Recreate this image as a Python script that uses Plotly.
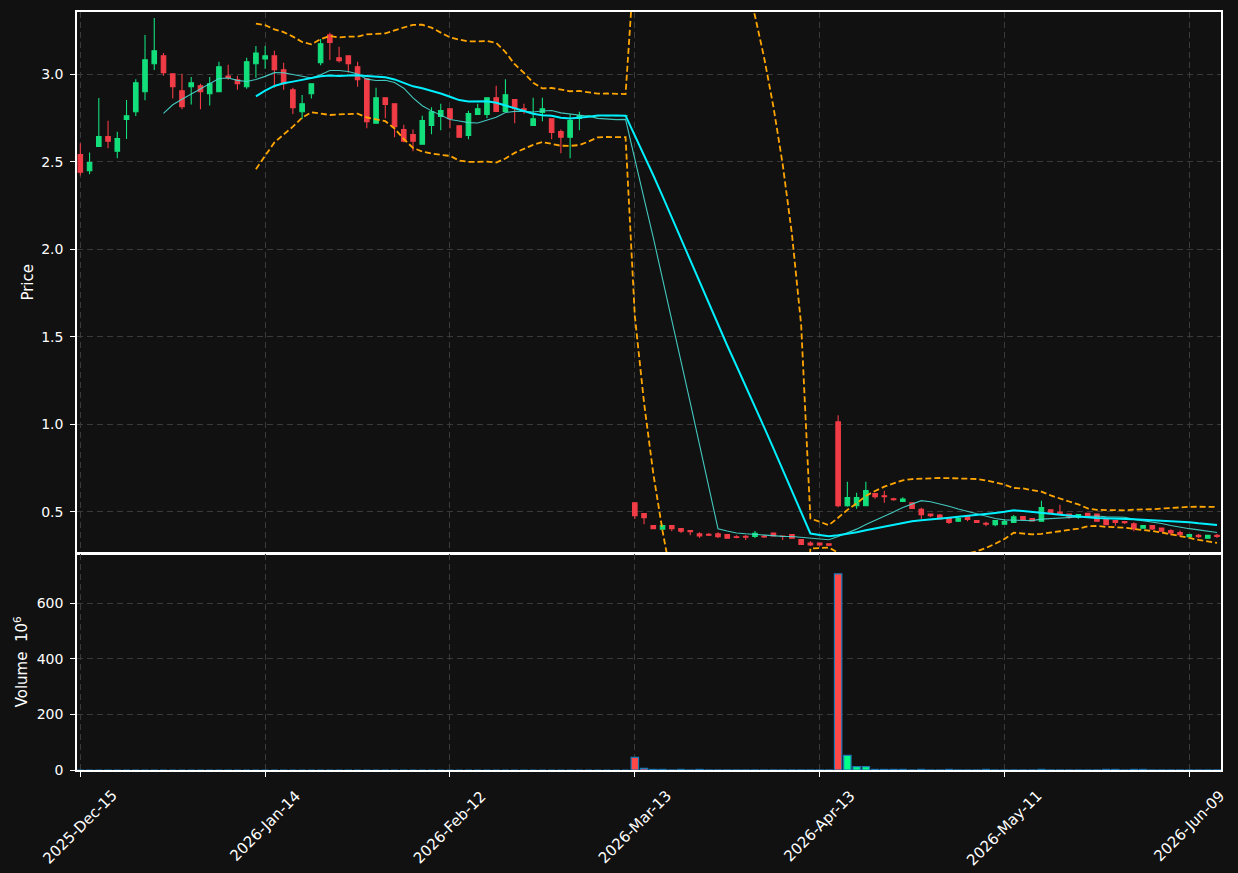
import pandas as pd
import plotly.graph_objects as go

# ---------------- data ----------------
tick_idx = [0, 20, 40, 60, 80, 100, 120]
tick_labels = ["2025-Dec-15", "2026-Jan-14", "2026-Feb-12", "2026-Mar-13",
               "2026-Apr-13", "2026-May-11", "2026-Jun-09"]

opens = [2.541, 2.449, 2.587, 2.644, 2.560, 2.742, 2.786, 2.900, 3.060, 3.105,
         3.003, 2.906, 2.929, 2.934, 2.889, 2.900, 2.990, 2.969, 2.929, 3.060,
         3.088, 3.105, 3.026, 2.912, 2.786, 2.889, 3.066, 3.225, 3.094, 3.105,
         3.043, 2.974, 2.720, 2.866, 2.832, 2.684, 2.655, 2.600, 2.708, 2.759,
         2.803, 2.706, 2.651, 2.771, 2.771, 2.866, 2.788, 2.855, 2.803, 2.708,
         2.782, 2.746, 2.672, 2.640, 2.748, 2.763, 2.763, 2.763, 2.763, 2.763,
         0.551, 0.489, 0.420, 0.400, 0.420, 0.403, 0.392, 0.373, 0.371, 0.373,
         0.369, 0.356, 0.359, 0.359, 0.361, 0.378, 0.361, 0.369, 0.340, 0.320,
         0.320, 0.316, 1.013, 0.534, 0.534, 0.534, 0.603, 0.591, 0.574, 0.559,
         0.551, 0.513, 0.487, 0.481, 0.460, 0.445, 0.472, 0.449, 0.434, 0.426,
         0.428, 0.439, 0.472, 0.460, 0.445, 0.511, 0.496, 0.487, 0.468, 0.490,
         0.487, 0.458, 0.449, 0.443, 0.430, 0.405, 0.420, 0.407, 0.392, 0.380,
         0.357, 0.365, 0.348, 0.365]
highs = [2.606, 2.553, 2.864, 2.735, 2.672, 2.853, 2.972, 3.225, 3.322, 3.121,
         3.003, 3.003, 2.984, 2.946, 2.984, 3.071, 3.054, 2.991, 3.094, 3.162,
         3.162, 3.134, 3.066, 2.923, 2.881, 2.946, 3.202, 3.237, 3.157, 3.105,
         3.071, 2.974, 2.923, 2.866, 2.832, 2.712, 2.684, 2.763, 2.811, 2.832,
         2.803, 2.706, 2.792, 2.832, 2.866, 2.934, 2.972, 2.855, 2.832, 2.866,
         2.866, 2.746, 2.685, 2.771, 2.786, 2.763, 2.763, 2.763, 2.763, 2.763,
         0.551, 0.489, 0.420, 0.426, 0.420, 0.403, 0.392, 0.382, 0.378, 0.382,
         0.369, 0.365, 0.367, 0.390, 0.365, 0.378, 0.361, 0.369, 0.340, 0.331,
         0.320, 0.320, 1.051, 0.671, 0.608, 0.671, 0.603, 0.620, 0.580, 0.582,
         0.551, 0.523, 0.487, 0.487, 0.460, 0.472, 0.479, 0.449, 0.443, 0.449,
         0.458, 0.481, 0.472, 0.460, 0.563, 0.511, 0.540, 0.490, 0.487, 0.490,
         0.487, 0.458, 0.449, 0.443, 0.439, 0.420, 0.420, 0.407, 0.399, 0.392,
         0.369, 0.373, 0.365, 0.373]
lows = [2.421, 2.429, 2.587, 2.577, 2.520, 2.630, 2.761, 2.851, 3.024, 2.991,
        2.862, 2.800, 2.828, 2.800, 2.822, 2.900, 2.969, 2.912, 2.917, 2.980,
        3.031, 2.923, 2.912, 2.773, 2.744, 2.862, 3.052, 3.081, 3.067, 3.009,
        2.929, 2.691, 2.720, 2.748, 2.640, 2.611, 2.560, 2.600, 2.657, 2.680,
        2.691, 2.640, 2.628, 2.771, 2.748, 2.788, 2.788, 2.720, 2.775, 2.708,
        2.731, 2.628, 2.549, 2.520, 2.680, 2.763, 2.763, 2.763, 2.763, 2.763,
        0.458, 0.428, 0.400, 0.400, 0.388, 0.378, 0.365, 0.350, 0.361, 0.350,
        0.348, 0.348, 0.338, 0.350, 0.350, 0.361, 0.338, 0.348, 0.312, 0.304,
        0.304, 0.304, 0.525, 0.528, 0.517, 0.534, 0.574, 0.551, 0.563, 0.559,
        0.519, 0.458, 0.470, 0.458, 0.430, 0.441, 0.445, 0.439, 0.416, 0.416,
        0.428, 0.439, 0.456, 0.447, 0.445, 0.490, 0.487, 0.460, 0.460, 0.479,
        0.445, 0.426, 0.420, 0.430, 0.388, 0.405, 0.395, 0.388, 0.365, 0.361,
        0.357, 0.350, 0.348, 0.350]
closes = [2.440, 2.495, 2.644, 2.617, 2.632, 2.763, 2.951, 3.083, 3.134, 3.009,
          2.929, 2.814, 2.951, 2.900, 2.946, 3.043, 2.982, 2.946, 3.071, 3.122,
          3.105, 3.026, 2.946, 2.809, 2.832, 2.946, 3.174, 3.182, 3.077, 3.060,
          2.969, 2.729, 2.866, 2.828, 2.701, 2.617, 2.617, 2.735, 2.786, 2.792,
          2.746, 2.640, 2.775, 2.803, 2.866, 2.788, 2.883, 2.803, 2.794, 2.746,
          2.803, 2.668, 2.640, 2.735, 2.763, 2.763, 2.763, 2.763, 2.763, 2.763,
          0.477, 0.466, 0.403, 0.420, 0.403, 0.388, 0.386, 0.361, 0.365, 0.357,
          0.348, 0.352, 0.354, 0.377, 0.356, 0.361, 0.359, 0.348, 0.312, 0.310,
          0.310, 0.308, 0.534, 0.580, 0.580, 0.620, 0.586, 0.586, 0.568, 0.572,
          0.519, 0.483, 0.477, 0.458, 0.439, 0.460, 0.456, 0.439, 0.428, 0.449,
          0.443, 0.470, 0.456, 0.447, 0.523, 0.490, 0.490, 0.468, 0.483, 0.479,
          0.445, 0.426, 0.439, 0.437, 0.401, 0.420, 0.401, 0.388, 0.378, 0.369,
          0.369, 0.357, 0.365, 0.359]
# volume in millions
volumes = [0.0] * 60 + [
    45.5, 6.0, 2.0, 2.0, 0.3, 2.0, 0.3, 2.0, 0.3, 0.3,
    0.3, 0.3, 0.3, 0.3, 0.3, 0.3, 0.3, 0.3, 0.3, 0.3,
    0.3, 0.3, 706.0, 52.7, 12.0, 12.0, 2.0, 2.0, 2.0, 2.0,
    0.3, 2.0, 0.3, 0.3, 2.0, 0.3, 0.3, 0.3, 2.0, 0.3,
    0.3, 0.3, 0.3, 0.3, 2.0, 0.3, 0.3, 0.3, 0.3, 0.3,
    0.3, 2.0, 2.0, 0.3, 2.0, 2.0, 0.3, 0.3, 0.3, 0.3,
    0.3, 0.3, 0.3, 0.3]

# ---------------- indicators (10/20 moving averages, 20-day Bollinger) ----------------
xs = list(range(len(closes)))
cs = pd.Series(closes)
ma10 = cs.rolling(10).mean()
ma20 = cs.rolling(20).mean()
sd20 = cs.rolling(20).std()
bb_up = ma20 + 2 * sd20
bb_lo = ma20 - 2 * sd20

UP = "#12df7c"
DOWN = "#f03c46"
VUP = "#00ff88"
VDOWN = "#ff4848"
BG = "#111111"
GRID = "#3a3a3a"
FONT = dict(family="DejaVu Sans", size=14, color="#ffffff")
FONT_L = dict(family="DejaVu Sans", size=15, color="#ffffff")

vol_colors = [VUP if c > o else VDOWN for o, c in zip(opens, closes)]

fig = go.Figure()
fig.add_trace(go.Candlestick(
    x=xs, open=opens, high=highs, low=lows, close=closes,
    xaxis="x", yaxis="y", whiskerwidth=0,
    increasing=dict(line=dict(color=UP, width=1.1), fillcolor=UP),
    decreasing=dict(line=dict(color=DOWN, width=1.1), fillcolor=DOWN),
    showlegend=False, name="OHLC"))
fig.add_trace(go.Scatter(x=xs, y=bb_up, mode="lines", xaxis="x", yaxis="y",
                         line=dict(color="#ffa500", width=1.8, dash="6px,3px"),
                         showlegend=False, name="BB upper"))
fig.add_trace(go.Scatter(x=xs, y=bb_lo, mode="lines", xaxis="x", yaxis="y",
                         line=dict(color="#ffa500", width=1.8, dash="6px,3px"),
                         showlegend=False, name="BB lower"))
fig.add_trace(go.Scatter(x=xs, y=ma10, mode="lines", xaxis="x", yaxis="y",
                         line=dict(color="rgba(72,220,210,0.9)", width=1.1),
                         showlegend=False, name="MA10"))
fig.add_trace(go.Scatter(x=xs, y=ma20, mode="lines", xaxis="x", yaxis="y",
                         line=dict(color="#00f0ff", width=2),
                         showlegend=False, name="MA20"))
fig.add_trace(go.Bar(x=xs, y=volumes, xaxis="x2", yaxis="y2", width=0.8,
                     marker=dict(color=vol_colors, line=dict(color="#1f77b4", width=1.2)),
                     showlegend=False, name="Volume"))

XR = [-0.36, 123.43]
axis_common = dict(showline=True, linecolor="#ffffff", linewidth=1.5, mirror=True,
                   showgrid=True, gridcolor=GRID, griddash="6px,4px", gridwidth=1,
                   zeroline=False, tickfont=FONT, tickcolor="#ffffff")

annotations = [dict(x=t, y=0, xref="x2", yref="paper", text=lab, textangle=-45,
                    xanchor="center", yanchor="top", yshift=-14, showarrow=False,
                    font=FONT_L)
               for t, lab in zip(tick_idx, tick_labels)]

fig.update_layout(
    width=1238, height=873,
    margin=dict(l=77, r=17, t=10, b=103),
    paper_bgcolor=BG, plot_bgcolor=BG,
    font=FONT, bargap=0.2,
    xaxis=dict(domain=[0, 1], anchor="y", range=XR, tickvals=tick_idx,
               showticklabels=False, ticks="", rangeslider=dict(visible=False),
               matches="x2", **axis_common),
    yaxis=dict(domain=[0.2868, 1], anchor="x", range=[0.266, 3.356],
               tickvals=[0.5, 1.0, 1.5, 2.0, 2.5, 3.0],
               ticktext=["0.5", "1.0", "1.5", "2.0", "2.5", "3.0"],
               ticks="outside", ticklen=5, ticklabelstandoff=4,
               title=dict(text="Price", font=FONT_L, standoff=4), **axis_common),
    xaxis2=dict(domain=[0, 1], anchor="y2", range=XR, tickvals=tick_idx,
                showticklabels=False, ticks="outside", ticklen=5, **axis_common),
    yaxis2=dict(domain=[0, 0.2855], anchor="x2", range=[0, 779],
                tickvals=[0, 200, 400, 600], ticks="outside", ticklen=5,
                ticklabelstandoff=4,
                title=dict(text="Volume  10<sup>6</sup>", font=FONT_L, standoff=5),
                **axis_common),
    annotations=annotations,
)

fig.write_html("out.html")
